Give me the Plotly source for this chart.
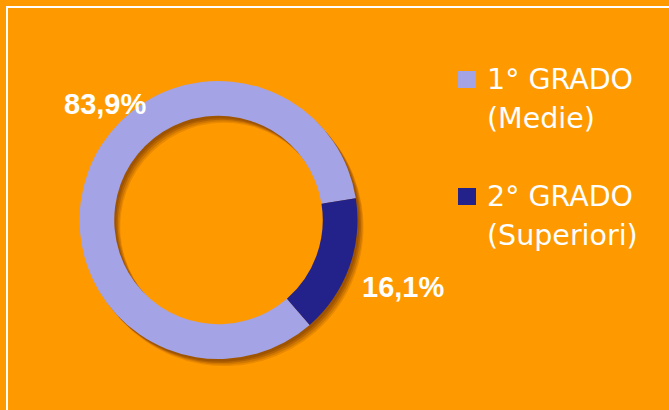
import plotly.graph_objects as go

# ---- data ----
grades = ["1° GRADO", "2° GRADO"]
schools = ["(Medie)", "(Superiori)"]
values = [83.9, 16.1]
colors = ["#A3A3E6", "#22228A"]

W, H = 669, 410
BG = "#FF9900"


def px(x):
    return x / W


def py(y):
    return 1 - y / H


# geometry (pixels)
cx, cy, R = 218.5, 220.0, 139.0
hole = 0.75


def dom(dx=0.0, dy=0.0):
    return dict(
        x=[px(cx + dx - R), px(cx + dx + R)],
        y=[py(cy + dy + R), py(cy + dy - R)],
    )


fig = go.Figure()

# soft drop shadow (layers)
for (dx, dy, a) in [(6, 7, 0.15), (5, 5.5, 0.2), (3.5, 4, 0.28), (2, 2.5, 0.3)]:
    fig.add_trace(go.Pie(
        values=values, labels=grades, hole=hole, sort=False,
        rotation=139, direction="clockwise",
        marker=dict(colors=[f"rgba(110,50,0,{a})"] * len(values), line=dict(width=0)),
        textinfo="none", hoverinfo="skip", showlegend=False,
        domain=dom(dx, dy),
    ))

fig.add_trace(go.Pie(
    values=values, labels=grades, hole=hole, sort=False,
    rotation=139, direction="clockwise",
    marker=dict(colors=colors, line=dict(width=0)),
    textinfo="none", showlegend=False,
    domain=dom(),
))

annotations = []
# percentage labels
label_pos = [(104.7, 104), (402.5, 287)]
for v, (lx, ly) in zip(values, label_pos):
    annotations.append(dict(
        x=px(lx), y=py(ly), xref="paper", yref="paper",
        text=f"{v:.1f}%".replace(".", ","), showarrow=False,
        xanchor="center", yanchor="middle",
        font=dict(family="Liberation Sans, Arial, sans-serif", size=29, color="white", weight="bold"),
    ))

# custom legend
shapes = []
leg_y = [79.5, 196.5]
text_y = [[79.5, 118.5], [196.0, 236.0]]
for g, s, c, ly, ty in zip(grades, schools, colors, leg_y, text_y):
    shapes.append(dict(
        type="rect", xref="paper", yref="paper",
        x0=px(458), x1=px(476), y0=py(ly + 8.5), y1=py(ly - 8.5),
        fillcolor=c, line=dict(width=0),
    ))
    for t, yy in zip([g, s], ty):
        annotations.append(dict(
            x=px(485), y=py(yy), xref="paper", yref="paper",
            text=t, showarrow=False, xanchor="left", yanchor="middle",
            font=dict(family="DejaVu Sans, sans-serif", size=28.5, color="white"),
        ))

# white frame
shapes.append(dict(
    type="rect", xref="paper", yref="paper",
    x0=px(7), x1=1.2, y0=-0.2, y1=py(7),
    line=dict(color="white", width=2), fillcolor="rgba(0,0,0,0)",
))

fig.update_layout(
    width=W, height=H,
    margin=dict(l=0, r=0, t=0, b=0),
    paper_bgcolor=BG, plot_bgcolor=BG,
    showlegend=False,
    annotations=annotations, shapes=shapes,
)

fig.write_html(
    "out.html",
    config={"displayModeBar": False},
    post_script="document.body.style.margin='0';document.body.style.background='#FF9900';",
)
